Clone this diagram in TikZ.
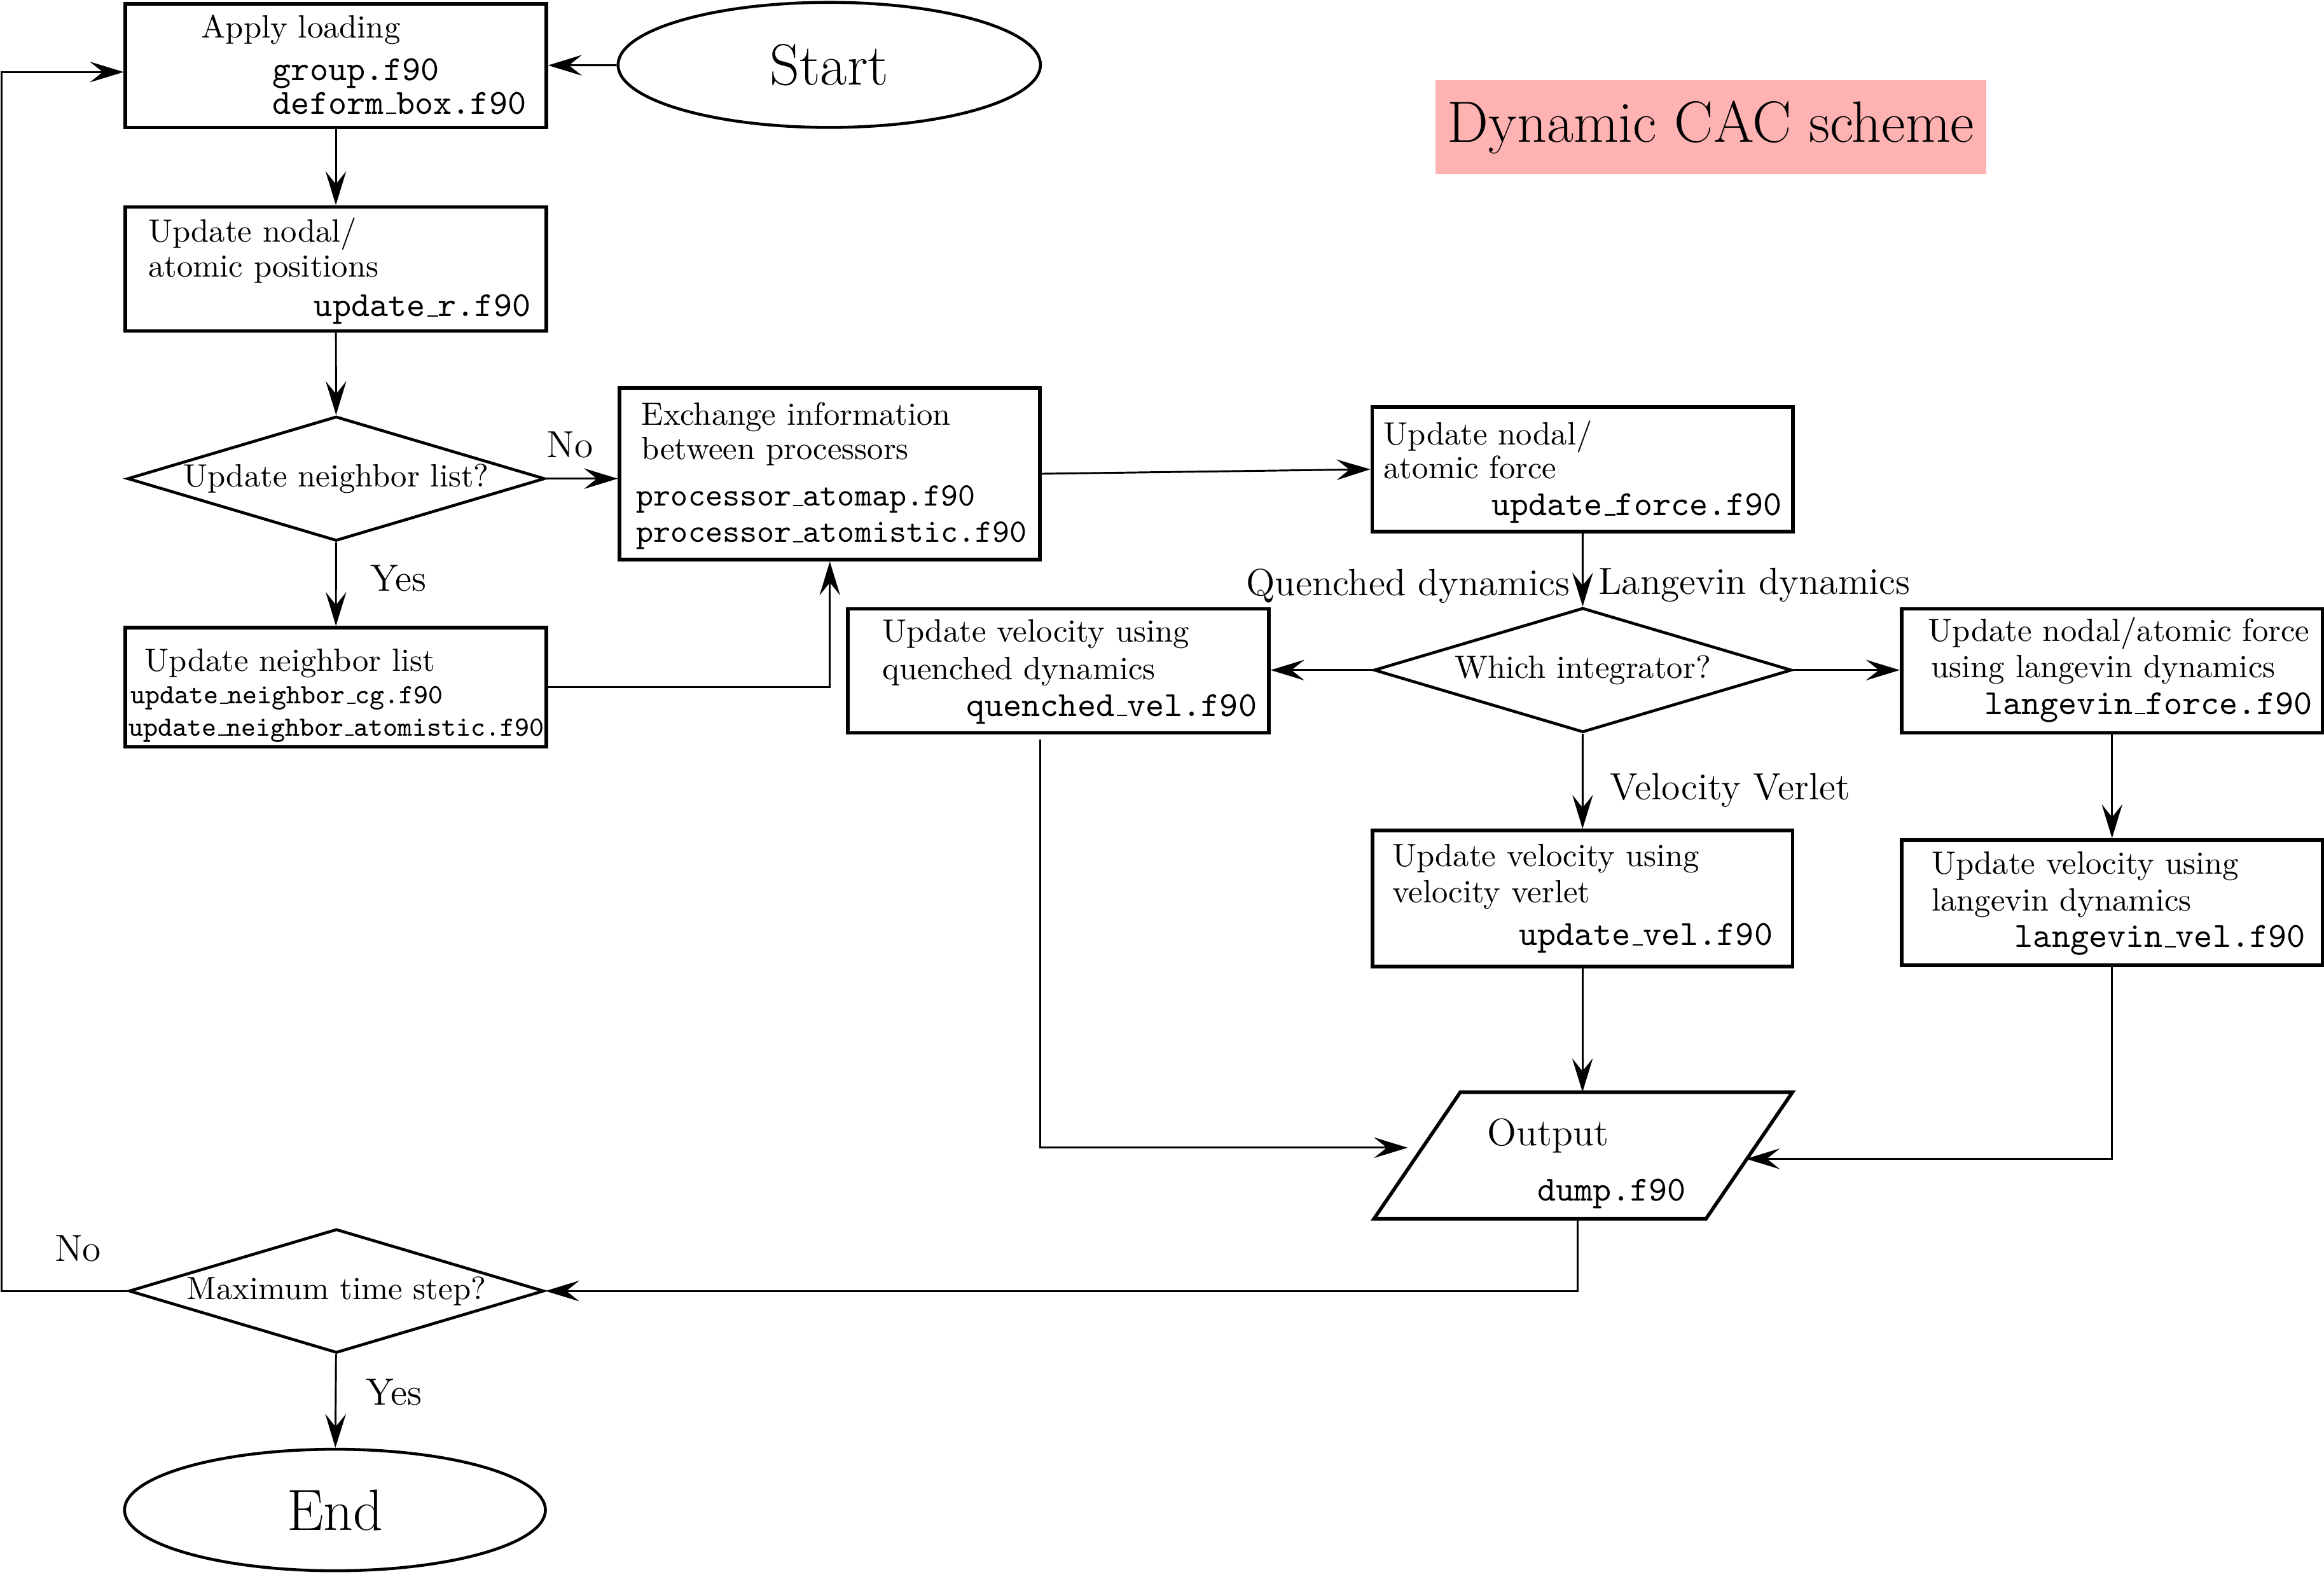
\documentclass[tikz,border=0pt]{standalone}
\usetikzlibrary{shapes.geometric,arrows.meta}
\newcommand\frm{\fontsize{10}{12}\selectfont\rmfamily}
\newcommand\ftt{\fontsize{10.95}{13}\selectfont\ttfamily}
\newcommand\fttx{\fontsize{10.17}{12}\selectfont\ttfamily}
\newcommand\fttn{\fontsize{8.65}{10}\selectfont\ttfamily}
\newcommand\flab{\fontsize{11.75}{14}\selectfont\rmfamily}
\newcommand\fout{\fontsize{11.9}{14}\selectfont\rmfamily}
\newcommand\fbig{\fontsize{18.1}{22}\selectfont\rmfamily}
\newcommand\usc{\leavevmode\kern.06em\vbox{\hrule width.3em}}
\tikzset{
  box/.style 2 args={draw, rectangle, line width=1.15pt, inner sep=0pt,
    minimum width=#1*0.46pt, minimum height=#2*0.46pt},
  dia/.style 2 args={draw, diamond, line width=0.9pt, inner sep=0pt, aspect=3.35,
    minimum width=#1*0.46pt, minimum height=#2*0.46pt, font=\frm},
  ell/.style 2 args={draw, ellipse, line width=0.9pt, inner sep=0pt,
    minimum width=#1*0.46pt, minimum height=#2*0.46pt, font=\fbig},
  txt/.style={inner sep=0pt, outer sep=0pt},
  lt/.style={txt, font=\frm, anchor=base west},
  rt/.style={txt, font=\ftt, anchor=base east},
  tl/.style={txt, font=\ftt, anchor=base west},
  lab/.style={txt, font=\flab},
  conn/.style={line width=0.58pt, -{Stealth[length=10.5pt,width=6.4pt,inset=4pt]}},
}
\begin{document}
\begin{tikzpicture}[x=0.46pt,y=-0.46pt]
\useasboundingbox (0,0) rectangle (1568,1064);

% ---------- main nodes ----------
\node[box={283.8}{83.4}] (A) at (226.6,44.3) {};
\node[ell={285}{84.4}] (start) at (559.5,43.8) {Start};
\node[fill=red!30, inner sep=0pt, minimum width=371.4*0.46pt, minimum height=63.7*0.46pt,
      font=\fbig] (title) at (1154.3,85.9) {Dynamic CAC scheme};
\node[box={283.8}{83.7}] (B) at (226.6,181.5) {};
\node[dia={281.6}{84}] (D1) at (226.8,323) {Update neighbor list?};
\node[box={283.7}{116}] (X) at (559.9,319.7) {};
\node[box={283.8}{80.4}] (C) at (226.6,463.8) {};
\node[box={283.7}{84.3}] (F) at (1067.7,316.7) {};
\node[dia={281.8}{84}] (D2) at (1067.9,452.2) {Which integrator?};
\node[box={284}{83.7}] (Q) at (714,452.7) {};
\node[box={284}{83.7}] (LF) at (1425,452.7) {};
\node[box={283.5}{91.7}] (V) at (1067.7,606.3) {};
\node[box={284}{84.7}] (LV) at (1425,609.2) {};
\node[dia={280}{83.6}] (D3) at (227,871.2) {Maximum time step?};
\node[ell={284}{82}] (end) at (226,1019) {End};

% output parallelogram
\coordinate (O1) at (985.3,737);
\coordinate (O2) at (1209.4,737);
\coordinate (O3) at (1151,822.5);
\coordinate (O4) at (927,822.5);
\draw[line width=1.1pt, line join=miter] (O1) -- (O2) -- (O3) -- (O4) -- cycle;
\coordinate (Oleft) at (949.8,774.5);
\coordinate (Oright) at (1178,782);
\coordinate (Obot) at (1064.3,822.5);
\coordinate (Lc) at (1,48.6);

% ---------- texts in boxes ----------
\node[lt] (A1) at (136,25.6) {Apply loading};
\node[tl] (A2) at (184,54.2) {group.f90};
\node[tl] (A3) at (184,77) {deform\usc box.f90};

\node[lt] (B1) at (100,163.2) {Update nodal/};
\node[lt] (B2) at (100,187) {atomic positions};
\node[rt] (B3) at (358,213.5) {update\usc r.f90};

\node[lt] (X1) at (432.8,287) {Exchange information};
\node[lt] (X2) at (432.8,310) {between processors};
\node[tl, font=\fttx] (X3) at (429.5,341.5) {processor\usc atomap.f90};
\node[tl, font=\fttx] (X4) at (429.5,366) {processor\usc atomistic.f90};

\node[lt] (C1) at (97.7,453) {Update neighbor list};
\node[tl, font=\fttn] (C2) at (88,475) {update\usc neighbor\usc cg.f90};
\node[tl, font=\fttn] (C3) at (87,496.5) {update\usc neighbor\usc atomistic.f90};

\node[lt] (F1) at (933.6,300) {Update nodal/};
\node[lt] (F2) at (933.6,323) {atomic force};
\node[rt] (F3) at (1202.4,347.8) {update\usc force.f90};

\node[lt] (Q1) at (595.3,433.2) {Update velocity using};
\node[lt] (Q2) at (595.3,458.7) {quenched dynamics};
\node[rt] (Q3) at (848,483.3) {quenched\usc vel.f90};

\node[lt] (LF1) at (1301,432.6) {Update nodal/atomic force};
\node[lt] (LF2) at (1303,457.3) {using langevin dynamics};
\node[rt] (LF3) at (1560,482) {langevin\usc force.f90};

\node[lt] (V1) at (939.4,584.6) {Update velocity using};
\node[lt] (V2) at (939.4,609.2) {velocity verlet};
\node[rt] (V3) at (1196,638) {update\usc vel.f90};

\node[lt] (LV1) at (1303.3,590) {Update velocity using};
\node[lt] (LV2) at (1303.3,614.7) {langevin dynamics};
\node[rt] (LV3) at (1555.4,639.3) {langevin\usc vel.f90};

\node[txt, font=\fout, anchor=base west] (Ot1) at (1003.6,773) {Output};
\node[tl] (Ot2) at (1037.4,810.5) {dump.f90};

% ---------- connectors ----------
\draw[conn] (start) -- (A);
\draw[conn] (A) -- (B);
\draw[conn] (B) -- (D1);
\draw[conn] (D1.east) -- (D1.east -| X.west);
\draw[conn] (D1) -- (C);
\draw[conn] (C.east) -| (X.south);
\draw[conn] (X.east) -- (F.west);
\draw[conn] (F) -- (D2);
\draw[conn] (D2.west) -- (D2.west -| Q.east);
\draw[conn] (D2.east) -- (D2.east -| LF.west);
\draw[conn] (D2) -- (V);
\draw[conn] (LF) -- (LV);
\draw[conn] (V.south) -- (V.south |- O1);
\draw[conn] ([xshift=-12*0.46pt,yshift=-3.4*0.46pt]Q.south) |- (Oleft);
\draw[conn] (LV.south) |- (Oright);
\draw[conn] (Obot) |- (D3.east);
\draw[conn] (D3.west) -| (Lc) -- (Lc -| A.west);
\draw[conn] (D3) -- (end);

% ---------- connector labels ----------
\node[lab, anchor=base west] (no1) at (369,308.7) {No};
\node[lab, anchor=base west] (yes1) at (250,399) {Yes};
\node[lab, anchor=base east] (lq) at (1059.2,402) {Quenched dynamics};
\node[lab, anchor=base west] (ll) at (1078.6,401.2) {Langevin dynamics};
\node[lab, anchor=base west] (lvv) at (1086.4,539.5) {Velocity Verlet};
\node[lab, anchor=base west] (no2) at (37,851) {No};
\node[lab, anchor=base west] (yes2) at (247,948) {Yes};
\end{tikzpicture}
\end{document}
